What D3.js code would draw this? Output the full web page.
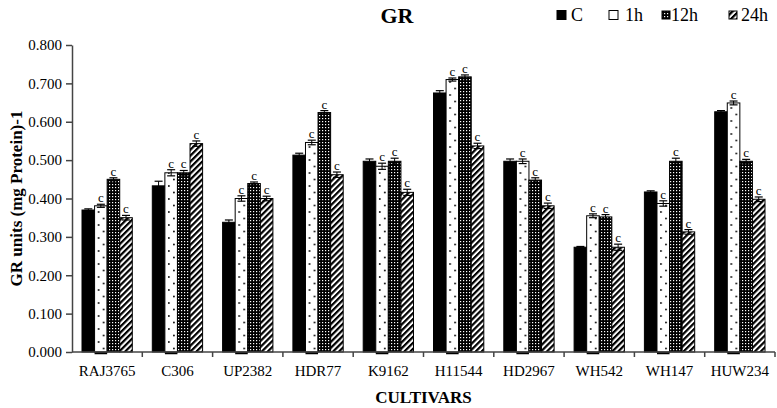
<!DOCTYPE html>
<html><head><meta charset="utf-8">
<script src="https://cdn.jsdelivr.net/npm/d3@7"></script>
<style>body{margin:0;background:#fff}svg{display:block}svg text{font-family:"Liberation Serif","DejaVu Serif",serif !important}</style>
</head><body>
<svg id="c" width="777" height="408" font-family="Liberation Serif"></svg>
<script>
const categories = ["RAJ3765","C306","UP2382","HDR77","K9162","H11544","HD2967","WH542","WH147","HUW234"];
const seriesNames = ["C","1h","12h","24h"];
const valC   = [0.370,0.433,0.338,0.513,0.497,0.675,0.497,0.273,0.417,0.626];
const val1h  = [0.381,0.467,0.400,0.546,0.484,0.710,0.497,0.355,0.387,0.649];
const val12h = [0.450,0.467,0.439,0.624,0.497,0.717,0.448,0.352,0.497,0.497];
const val24h = [0.350,0.543,0.400,0.462,0.416,0.537,0.381,0.273,0.313,0.398];
const errC   = [0.003,0.012,0.006,0.005,0.006,0.006,0.006,0.002,0.003,0.003];
const err1h  = [0.004,0.008,0.007,0.006,0.008,0.004,0.006,0.005,0.007,0.005];
const err12h = [0.004,0.006,0.004,0.005,0.008,0.005,0.006,0.006,0.008,0.005];
const err24h = [0.006,0.007,0.006,0.007,0.008,0.007,0.007,0.008,0.006,0.006];
const sigLabels = ["", "c","c","c"];
const yTicks = [0,0.1,0.2,0.3,0.4,0.5,0.6,0.7,0.8];

const values = [valC,val1h,val12h,val24h];
const errs = [errC,err1h,err12h,err24h];
const FF = "Liberation Serif";

const svg = d3.select("#c");
const x0 = 72, x1 = 775, yTop = 45, yBot = 352;
const x = d3.scaleBand().domain(categories).range([x0,x1]).paddingInner(0).paddingOuter(0);
const inner = d3.scaleBand().domain(seriesNames).range([10, x.bandwidth()-10]).padding(0);
const y = d3.scaleLinear().domain([0,0.8]).range([yBot,yTop]);

const defs = svg.append("defs");
const bw = inner.bandwidth();
const p1 = defs.append("pattern").attr("id","p1h").attr("patternUnits","userSpaceOnUse")
  .attr("x",x0).attr("y",yBot).attr("width",x.step()).attr("height",13);
p1.append("rect").attr("width",x.step()).attr("height",13).attr("fill","#fff");
p1.append("circle").attr("cx",inner("1h")+bw*0.32).attr("cy",3).attr("r",0.9).attr("fill","#000");
p1.append("circle").attr("cx",inner("1h")+bw*0.72).attr("cy",9.5).attr("r",0.9).attr("fill","#000");
const p2 = defs.append("pattern").attr("id","p12h").attr("patternUnits","userSpaceOnUse")
  .attr("width",3).attr("height",3);
p2.append("rect").attr("width",3).attr("height",3).attr("fill","#000");
p2.append("rect").attr("x",1).attr("y",1).attr("width",1.2).attr("height",1.2).attr("fill","#fff");
const p3 = defs.append("pattern").attr("id","p24h").attr("patternUnits","userSpaceOnUse")
  .attr("width",4.2).attr("height",4.2).attr("patternTransform","rotate(45)");
p3.append("rect").attr("width",4.2).attr("height",4.2).attr("fill","#fff");
p3.append("rect").attr("width",2.2).attr("height",4.2).attr("fill","#000");

const fills = {"C":"#000","1h":"url(#p1h)","12h":"url(#p12h)","24h":"url(#p24h)"};

seriesNames.forEach((s,si)=>{
  const g = svg.append("g");
  categories.forEach((c,ci)=>{
    const v = values[si][ci], e = errs[si][ci];
    const bx = x(c)+inner(s);
    g.append("rect").attr("x",bx).attr("y",y(v)).attr("width",bw).attr("height",y(0)-y(v))
      .attr("fill",fills[s]).attr("stroke","#000").attr("stroke-width",1);
    const cx = bx + bw/2;
    g.append("line").attr("x1",cx).attr("x2",cx).attr("y1",y(v-e)).attr("y2",y(v+e)).attr("stroke","#000").attr("stroke-width",1);
    g.append("line").attr("x1",cx-4).attr("x2",cx+4).attr("y1",y(v+e)).attr("y2",y(v+e)).attr("stroke","#000").attr("stroke-width",1.2);
    g.append("line").attr("x1",cx-4).attr("x2",cx+4).attr("y1",y(v-e)).attr("y2",y(v-e)).attr("stroke","#000").attr("stroke-width",1.2);
    const lab = sigLabels[si];
    if (lab) g.append("text").attr("x",cx).attr("y",y(v+e)-2).attr("text-anchor","middle")
      .attr("font-family",FF).attr("font-size",13).text(lab);
    if (s==="1h") g.append("line").attr("x1",bx).attr("x2",bx+bw).attr("y1",y(0)+1).attr("y2",y(0)+1)
      .attr("stroke","#000").attr("stroke-width",2.5);
  });
});

const yAxis = d3.axisLeft(y).tickValues(yTicks).tickFormat(d3.format(".3f")).tickSize(6).tickSizeOuter(0);
const ya = svg.append("g").attr("transform",`translate(${x0},0)`).call(yAxis).attr("font-family",FF);
ya.selectAll("path,line").attr("stroke","#444").attr("stroke-width",1.5);
ya.selectAll("text").attr("font-size",15).attr("fill","#000").attr("dx",-1).attr("font-family",FF);

const xa = svg.append("g").attr("transform",`translate(0,${yBot})`);
xa.append("line").attr("x1",x0).attr("x2",x1).attr("y1",0).attr("y2",0).attr("stroke","#444").attr("stroke-width",1.5);
xa.selectAll(".tk").data(categories).join("line").attr("class","tk")
  .attr("x1",d=>x(d)+x.step()).attr("x2",d=>x(d)+x.step()).attr("y1",0).attr("y2",5)
  .attr("stroke","#444").attr("stroke-width",1.5);
xa.selectAll(".lb").data(categories).join("text").attr("class","lb")
  .attr("x",d=>x(d)+x.bandwidth()/2).attr("y",24).attr("text-anchor","middle")
  .attr("font-family",FF).attr("font-size",15).text(d=>d);

svg.append("text").attr("x",397).attr("y",23).attr("text-anchor","middle").attr("font-size",22)
  .attr("font-family",FF).attr("font-weight","bold").text("GR");
svg.append("text").attr("x",(x0+x1)/2).attr("y",403).attr("text-anchor","middle").attr("font-size",17)
  .attr("font-family",FF).attr("font-weight","bold").text("CULTIVARS");
svg.append("text").attr("transform",`translate(22,${(yTop+yBot)/2}) rotate(-90)`).attr("text-anchor","middle")
  .attr("font-family",FF).attr("font-size",17).attr("font-weight","bold").text("GR units (mg Protein)-1");

const legendX = [557, 609, 662, 729];
const legendTX = [571, 625, 671, 741];
seriesNames.forEach((s,i)=>{
  const sz = s==="12h"||s==="24h" ? 8 : 9;
  svg.append("rect").attr("x",legendX[i]).attr("y",15-sz/2).attr("width",sz).attr("height",sz)
    .attr("fill", s==="1h" ? "#fff" : fills[s]).attr("stroke","#000").attr("stroke-width",1);
  svg.append("text").attr("x",legendTX[i]).attr("y",21).attr("font-family",FF).attr("font-size",18).text(s);
});
</script>
</body></html>
